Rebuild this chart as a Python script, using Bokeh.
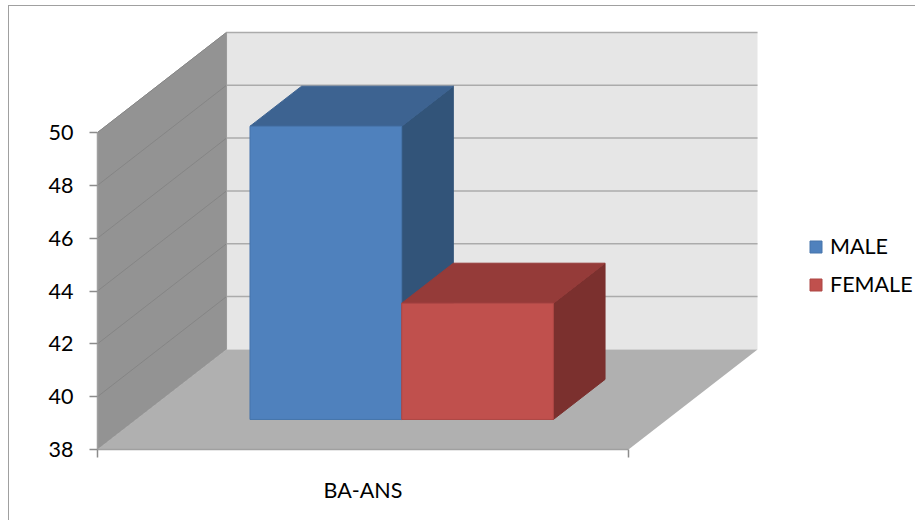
from bokeh.embed import file_html
from bokeh.models import FixedTicker, Legend, LegendItem, LinearAxis, Range1d
from bokeh.plotting import figure
from bokeh.resources import INLINE

category = "BA-ANS"
series_names = ["MALE", "FEMALE"]
series_values = [49.1, 42.4]
value_ticks = [38, 40, 42, 44, 46, 48, 50]

front_colors = ["#4F81BD", "#C0504D"]
top_colors = ["#3D6391", "#953B39"]
side_colors = ["#325479", "#7B302E"]
edge_colors = ["#4674AB", "#AD4744"]

FONT = "Lato"
BASE = value_ticks[0]
TOP = value_ticks[-1]

# Oblique projection: a point at depth d (0 front, 1 back) shifts right and up.
DEPTH_X = 0.243
DEPTH_Y = 3.79
BAR_DEPTH = (0.30, 0.70)
GAP = 1.5  # gap width relative to one bar, split over both sides


def project(x, v, d):
    return x + d * DEPTH_X, v + d * DEPTH_Y


def poly(points):
    xs, ys = zip(*(project(*pt) for pt in points))
    return list(xs), list(ys)


p = figure(width=915, height=520, frame_width=663, frame_height=420,
           output_backend="svg", toolbar_location=None,
           x_range=Range1d(0, 1.2486), y_range=Range1d(BASE, 53.9),
           x_axis_type=None, y_axis_type=None,
           min_border_left=97, min_border_right=0, min_border_top=29, min_border_bottom=71,
           outline_line_color=None, background_fill_color="white", border_fill_color="white")
p.grid.visible = False

# Chart-area frame: only its top and left edges fall inside the page
p.stylesheets = [""":host::after {
    content: ""; position: absolute; left: 8px; top: 5px; right: 0; bottom: 0;
    border-left: 1.5px solid #A0A0A0; border-top: 1.5px solid #A0A0A0;
    pointer-events: none;
}"""]

# Walls and floor of the box
xs, ys = poly([(0, BASE, 1), (1, BASE, 1), (1, TOP, 1), (0, TOP, 1)])
p.patch(xs, ys, fill_color="#E6E6E6", line_color=None)
xs, ys = poly([(0, BASE, 0), (0, BASE, 1), (0, TOP, 1), (0, TOP, 0)])
p.patch(xs, ys, fill_color="#939393", line_color="#9A9A9A", line_width=1)
xs, ys = poly([(0, BASE, 0), (1, BASE, 0), (1, BASE, 1), (0, BASE, 1)])
p.patch(xs, ys, fill_color="#B0B0B0", line_color=None)

# Gridlines run across the side wall, then the back wall
for v in value_ticks[1:]:
    xs, ys = poly([(0, v, 0), (0, v, 1)])
    p.line(xs, ys, line_color="#858585", line_width=1)
    xs, ys = poly([(0, v, 1), (1, v, 1)])
    p.line(xs, ys, line_color="#ABABAB", line_width=1.5)

# Columns: side and top faces first, front face last
bar_w = 1 / (len(series_values) + GAP)
d0, d1 = BAR_DEPTH
face_renderers = []
for i, v in enumerate(series_values):
    x0 = (GAP / 2 + i) * bar_w
    x1 = x0 + bar_w
    xs, ys = poly([(x1, BASE, d0), (x1, BASE, d1), (x1, v, d1), (x1, v, d0)])
    p.patch(xs, ys, fill_color=side_colors[i], line_color=side_colors[i], line_width=1)
    xs, ys = poly([(x0, v, d0), (x1, v, d0), (x1, v, d1), (x0, v, d1)])
    p.patch(xs, ys, fill_color=top_colors[i], line_color=top_colors[i], line_width=1)
    xs, ys = poly([(x0, BASE, d0), (x1, BASE, d0), (x1, v, d0), (x0, v, d0)])
    face_renderers.append(p.patches([xs], [ys], fill_color=front_colors[i],
                                    line_color=edge_colors[i], line_width=1))

# Value axis stops at the last tick, below the box's rising wall
y_axis = LinearAxis(bounds=(BASE, TOP), ticker=FixedTicker(ticks=value_ticks),
                    axis_line_color="#A0A0A0", axis_line_width=1.5,
                    major_tick_line_color="#8C8C8C", major_tick_line_width=1.5,
                    major_tick_in=0, major_tick_out=8, minor_tick_line_color=None,
                    major_label_standoff=16, major_label_text_font=FONT,
                    major_label_text_font_size="21.5px", major_label_text_color="#000000")
p.add_layout(y_axis, "left")

# Category axis: ticks at the ends, the single category's label in the middle
x_axis = LinearAxis(bounds=(0, 1), ticker=FixedTicker(ticks=[0.5], minor_ticks=[0, 1]),
                    major_label_overrides={0.5: category},
                    axis_line_color="#A0A0A0", axis_line_width=1.5,
                    major_tick_line_color=None,
                    minor_tick_line_color="#8C8C8C", minor_tick_line_width=1.5,
                    minor_tick_in=0, minor_tick_out=8,
                    major_label_standoff=19, major_label_text_font=FONT,
                    major_label_text_font_size="21.5px", major_label_text_color="#000000")
p.add_layout(x_axis, "below")

legend = Legend(items=[LegendItem(label=n, renderers=[r])
                       for n, r in zip(series_names, face_renderers)],
                location=(48, 152), orientation="vertical", border_line_color=None,
                background_fill_color=None, margin=0, padding=0,
                glyph_width=15, glyph_height=15, label_standoff=7, spacing=12,
                label_text_font=FONT, label_text_font_size="21.5px",
                label_text_color="#000000", label_height=22)
p.add_layout(legend, "right")

open("out.html", "w").write(file_html(p, INLINE))
